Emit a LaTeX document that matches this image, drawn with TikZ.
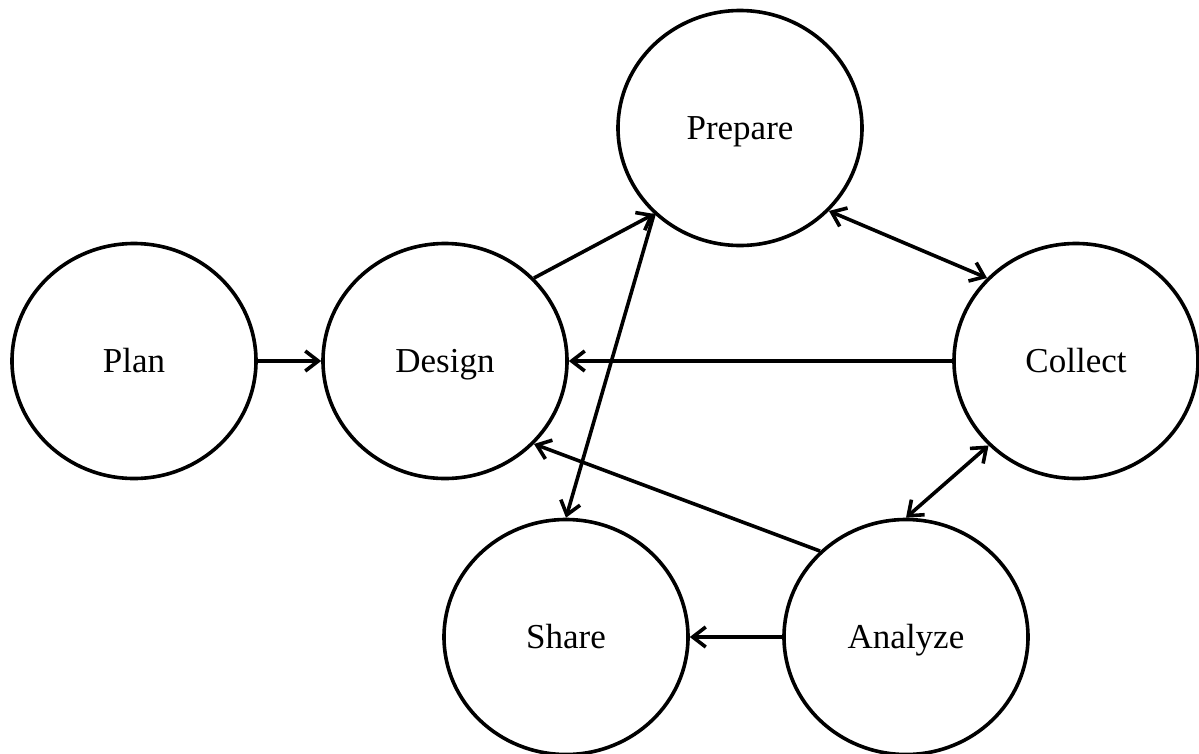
\documentclass[tikz,border=0pt]{standalone}
\usepackage{fontspec}
\setmainfont{Liberation Serif}
\usetikzlibrary{shapes.geometric,arrows.meta}
\begin{document}
\begin{tikzpicture}[x=1pt,y=-1pt,
  stage/.style={ellipse,draw,line width=3.6pt,minimum width=244pt,minimum height=235pt,
    inner sep=0pt,text height=23pt,text depth=0pt,font=\fontsize{35}{40}\selectfont},
  tip/.tip={Straight Barb[length=13pt,width=20pt]},
  link/.style={line width=3.6pt,arrows={-tip}},
  both/.style={line width=3.6pt,arrows={tip-tip}}]
\useasboundingbox (0,0) rectangle (1199,753);
\fill[white] (0,0) rectangle (1199,753);
% process stages
\node[stage] (plan)    at (134,361)  {Plan};
\node[stage] (design)  at (445,361)  {Design};
\node[stage] (prepare) at (740,128)  {Prepare};
\node[stage] (collect) at (1076,361) {Collect};
\node[stage] (share)   at (566,637)  {Share};
\node[stage] (analyze) at (906,637)  {Analyze};
% connections between stages
\draw[link] (plan) -- (design);
\draw[link] (design.43) -- (prepare.225);
\draw[link] (prepare.225) -- (share.90);
\draw[both] (prepare.317) -- (collect.137);
\draw[link] (collect) -- (design);
\draw[both] (collect.224) -- (analyze.90);
\draw[link] (analyze.135) -- (design.317);
\draw[link] (analyze) -- (share);
\end{tikzpicture}
\end{document}
